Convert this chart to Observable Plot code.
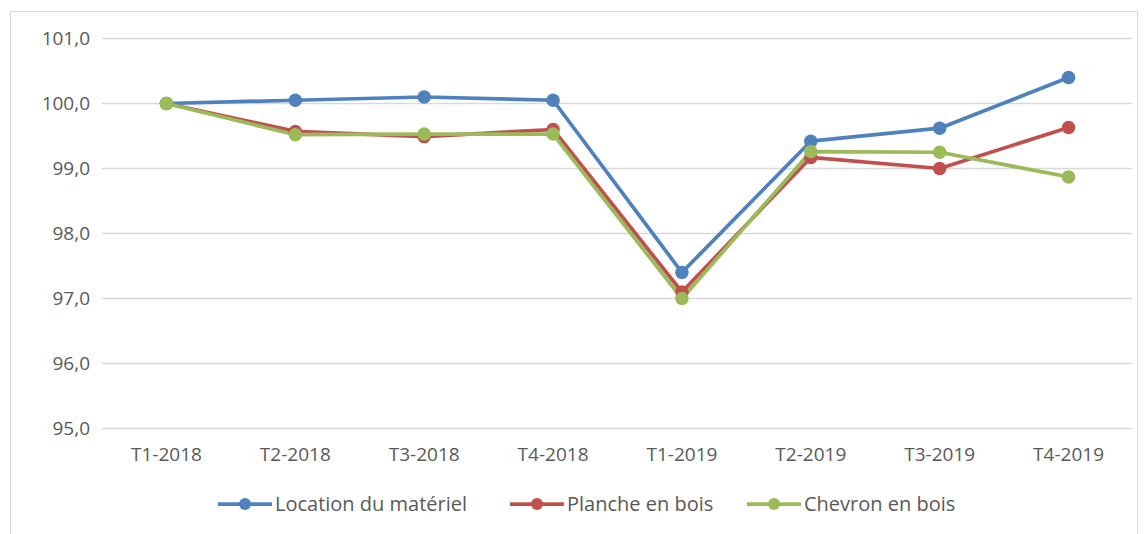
<!DOCTYPE html>
<html>
<head>
<meta charset="utf-8">
<script src="https://cdn.jsdelivr.net/npm/d3@7"></script>
<script src="https://cdn.jsdelivr.net/npm/@observablehq/plot@0.6"></script>
<style>
  body { margin: 0; background: #fff; font-family: "Open Sans", Lato, sans-serif; }
  #wrap { position: relative; width: 1148px; height: 534px; overflow: hidden; }
  #frame { position: absolute; left: 10px; top: 11px; width: 1128px; height: 540px; border: 1px solid #D9D9D9; box-sizing: border-box; }
  #chart { position: absolute; left: 0; top: 0; }
  #legend { position: absolute; top: 490px; left: 0; width: 1148px; height: 30px; font-size: 20px; color: #595959; white-space: nowrap; }
  .item { position: absolute; top: 0; display: flex; align-items: center; gap: 3px; }
  .item:nth-child(1) { left: 218px; }
  .item:nth-child(2) { left: 510px; }
  .item:nth-child(3) { left: 747px; }
</style>
</head>
<body>
<div id="wrap">
  <div id="frame"></div>
  <div id="chart"></div>
  <div id="legend"></div>
</div>
<script>
const quarters = ["T1-2018", "T2-2018", "T3-2018", "T4-2018", "T1-2019", "T2-2019", "T3-2019", "T4-2019"];
const seriesNames = ["Location du matériel", "Planche en bois", "Chevron en bois"];
const location_ = [100.0, 100.05, 100.1, 100.05, 97.4, 99.42, 99.62, 100.4];
const planche = [100.0, 99.57, 99.49, 99.6, 97.1, 99.17, 99.0, 99.63];
const chevron = [100.0, 99.52, 99.53, 99.53, 97.0, 99.26, 99.25, 98.87];
const colors = ["#4F81BD", "#C0504D", "#9BBB59"];
const yTicks = [95, 96, 97, 98, 99, 100, 101];

const seriesValues = [location_, planche, chevron];
const data = [];
seriesNames.forEach((s, i) => quarters.forEach((q, j) => data.push({ series: s, quarter: q, value: seriesValues[i][j] })));

const fmt = d => d.toFixed(1).replace(".", ",");

const chart = Plot.plot({
  width: 1148,
  height: 480,
  marginLeft: 101.5,
  marginRight: 15.5,
  marginTop: 38,
  marginBottom: 52,
  style: { fontFamily: "'Open Sans', Lato, sans-serif", fontSize: "19px", color: "#595959", background: "transparent" },
  x: { type: "point", domain: quarters, padding: 0.5, round: false, label: null, tickSize: 0, tickPadding: 20 },
  y: { domain: [95, 101], ticks: yTicks, tickFormat: fmt, label: null, tickSize: 0, tickPadding: 12 },
  color: { domain: seriesNames, range: colors },
  marks: [
    Plot.gridY(yTicks, { stroke: "#D9D9D9", strokeOpacity: 1, strokeWidth: 1.5 }),
    Plot.axisX({ tickSize: 0, tickPadding: 19, fill: "#595959" }),
    Plot.axisY({ ticks: yTicks, tickFormat: fmt, tickSize: 0, tickPadding: 12, fill: "#595959" }),
    Plot.line(data, { x: "quarter", y: "value", z: "series", stroke: "series", strokeWidth: 3.75 }),
    Plot.dot(data, { x: "quarter", y: "value", fill: "series", r: 6.75 })
  ]
});
document.getElementById("chart").appendChild(chart);

const legend = document.getElementById("legend");
seriesNames.forEach((s, i) => {
  const item = document.createElement("div");
  item.className = "item";
  item.innerHTML = `<svg width="54" height="14"><line x1="0" y1="7" x2="54" y2="7" stroke="${colors[i]}" stroke-width="3.75"/><circle cx="27" cy="7" r="6" fill="${colors[i]}"/></svg><span>${s}</span>`;
  legend.appendChild(item);
});
</script>
</body>
</html>
